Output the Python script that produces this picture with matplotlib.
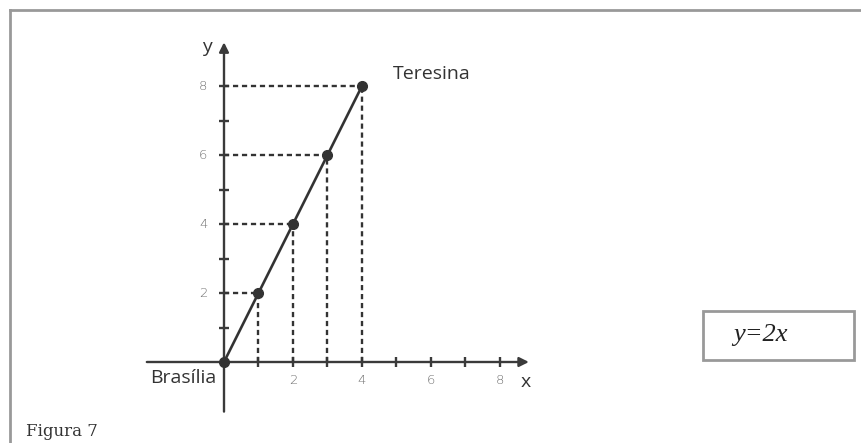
import matplotlib
matplotlib.use("Agg")
import matplotlib.pyplot as plt
from matplotlib.lines import Line2D
from matplotlib.patches import Rectangle

# Data
x_vals = [0, 1, 2, 3, 4]
y_vals = [0, 2, 4, 6, 8]
x_ticks = [1, 2, 3, 4, 5, 6, 7, 8]
y_ticks = [1, 2, 3, 4, 5, 6, 7, 8]
x_tick_labels = {2: "2", 4: "4", 6: "6", 8: "8"}
y_tick_labels = {2: "2", 4: "4", 6: "6", 8: "8"}
start_label = "Brasília"
end_label = "Teresina"
equation = "y=2x"
caption = "Figura 7"

W, H = 862, 443
fig = plt.figure(figsize=(W / 100, H / 100), dpi=100)
fig.patch.set_facecolor("white")

# geometry (pixels)
s = 34.45
ox, oy = 224.0, 362.0
xlim = (-2.5, 10.5)
ylim = (-1.7, 9.8)
left_px = ox + xlim[0] * s
right_px = ox + xlim[1] * s
bottom_px = oy - ylim[0] * s
top_px = oy - ylim[1] * s
ax = fig.add_axes([left_px / W, 1 - bottom_px / H,
                   (right_px - left_px) / W, (bottom_px - top_px) / H])
ax.set_xlim(*xlim)
ax.set_ylim(*ylim)
ax.axis("off")

dark = "#333333"
axis_col = "#3a3a3a"

# axes with arrows
ax.annotate("", xy=(8.85, 0), xytext=(-2.24, 0),
            arrowprops=dict(arrowstyle="-|>", color=axis_col, lw=1.7,
                            mutation_scale=14, shrinkA=0, shrinkB=0))
ax.annotate("", xy=(0, 9.28), xytext=(0, -1.44),
            arrowprops=dict(arrowstyle="-|>", color=axis_col, lw=1.7,
                            mutation_scale=14, shrinkA=0, shrinkB=0))

# tick marks
tl = 0.15
for t in x_ticks:
    ax.plot([t, t], [-tl, tl], color=axis_col, lw=1.7, solid_capstyle="butt")
for t in y_ticks:
    ax.plot([-tl, tl], [t, t], color=axis_col, lw=1.7, solid_capstyle="butt")

tick_font = dict(fontsize=9.5, color="#707070", family="DejaVu Sans", fontweight="light")
for t, lab in x_tick_labels.items():
    ax.text(t, -0.52, lab, ha="center", va="center", **tick_font)
for t, lab in y_tick_labels.items():
    ax.text(-0.6, t, lab, ha="center", va="center", **tick_font)

# dashed guides
for xv, yv in zip(x_vals[1:], y_vals[1:]):
    ax.plot([0, xv], [yv, yv], color=dark, lw=1.7, ls=(0, (2.2, 1.6)))
    ax.plot([xv, xv], [0, yv], color=dark, lw=1.7, ls=(0, (2.2, 1.6)))

# line and points
ax.plot(x_vals, y_vals, color=dark, lw=1.9, zorder=3)
ax.plot(x_vals, y_vals, "o", color=dark, ms=7, zorder=4)

# axis letters
ax.text(-0.5, 9.15, "y", ha="center", va="center", fontsize=14,
        color=dark, family="Open Sans")
ax.text(8.75, -0.58, "x", ha="center", va="center", fontsize=14,
        color=dark, family="Open Sans")

# place labels
ax.text(4.9, 8.35, end_label, ha="left", va="center", fontsize=14,
        color=dark, family="Open Sans")
ax.text(-0.22, -0.45, start_label, ha="right", va="center", fontsize=14,
        color=dark, family="Open Sans")

# outer frame (top and left only)
frame_col = "#999999"
fig.add_artist(Line2D([10 / W, 1.0], [1 - 10 / H, 1 - 10 / H],
                      transform=fig.transFigure, color=frame_col, lw=2))
fig.add_artist(Line2D([10 / W, 10 / W], [1 - 10 / H, 0.0],
                      transform=fig.transFigure, color=frame_col, lw=2))

# equation box
bx0, by0, bx1, by1 = 703, 311, 854, 360
fig.add_artist(Rectangle((bx0 / W, 1 - by1 / H), (bx1 - bx0) / W, (by1 - by0) / H,
                         transform=fig.transFigure, fill=False,
                         edgecolor=frame_col, lw=2))
fig.text(733 / W, 1 - 335 / H, equation, ha="left", va="center", fontsize=19,
         style="italic", family="Liberation Serif", color="#222222")

# caption
fig.text(26 / W, 1 - 431 / H, caption, ha="left", va="center", fontsize=12,
         family="DejaVu Serif", color="#333333")

fig.savefig("out.png", dpi=100)
